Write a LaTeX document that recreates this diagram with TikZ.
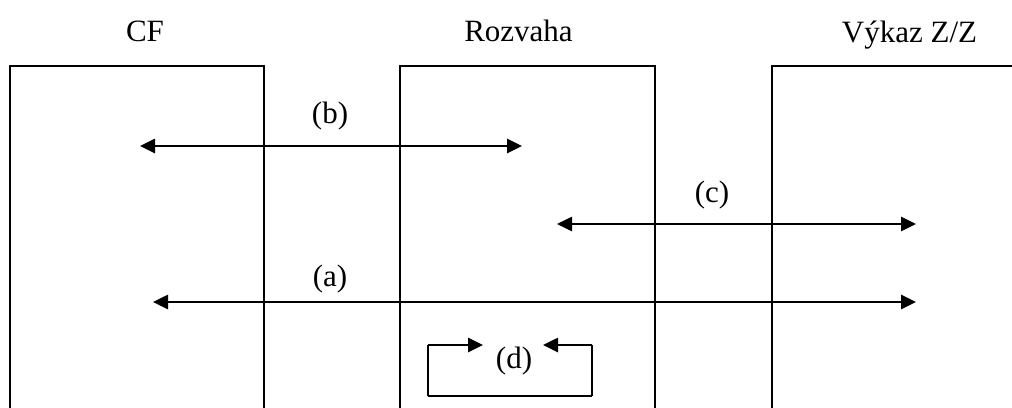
\documentclass[tikz,border=0pt]{standalone}
\usepackage{fontspec}
\setmainfont{Liberation Serif}
\usetikzlibrary{arrows.meta}
\tikzset{
  boxline/.style={line width=1.8pt},
  link/.style={line width=2.6pt,{Triangle[length=15pt,width=14pt]}-{Triangle[length=15pt,width=14pt]}},
  onelink/.style={line width=2.6pt,-{Triangle[length=15pt,width=14pt]}},
  loopline/.style={line width=2pt},
  lbl/.style={font=\fontsize{31}{36}\selectfont,inner sep=0pt,anchor=base},
}
\begin{document}
\begin{tikzpicture}[x=1pt,y=-1pt]
\useasboundingbox (0,0) rectangle (1012,407);
% titles
\node[lbl] (tcf) at (145,41) {CF};
\node[lbl] (trz) at (518.5,41) {Rozvaha};
\node[lbl] (tvz) at (909.5,42) {Výkaz Z/Z};
% boxes (open at bottom)
\draw[boxline] (10,410) -- (10,66) -- (264,66) -- (264,410);
\draw[boxline] (400,410) -- (400,66) -- (655,66) -- (655,410);
\draw[boxline] (772,410) -- (772,66) -- (1015,66);
% endpoints
\coordinate (b1) at (140,146); \coordinate (b2) at (522,146);
\coordinate (c1) at (557,224); \coordinate (c2) at (916,224);
\coordinate (a1) at (153,302); \coordinate (a2) at (916,302);
\coordinate (d1) at (483,345); \coordinate (d2) at (543,345);
\coordinate (dl) at (428,345); \coordinate (dr) at (592,345);
% arrows
\draw[link] (b1) -- (b2);
\draw[link] (c1) -- (c2);
\draw[link] (a1) -- (a2);
\node[lbl] (lb) at (330,123) {(b)};
\node[lbl] (lc) at (712,202) {(c)};
\node[lbl] (la) at (330,286) {(a)};
\node[lbl] (ld) at (514,368) {(d)};
% loop (d)
\draw[loopline] (dl |- 0,396) -- (dr |- 0,396);
\draw[loopline] (dl |- 0,396) -- (dl);
\draw[loopline] (dr |- 0,396) -- (dr);
\draw[onelink] (dl) -- (d1);
\draw[onelink] (dr) -- (d2);
\end{tikzpicture}
\end{document}
